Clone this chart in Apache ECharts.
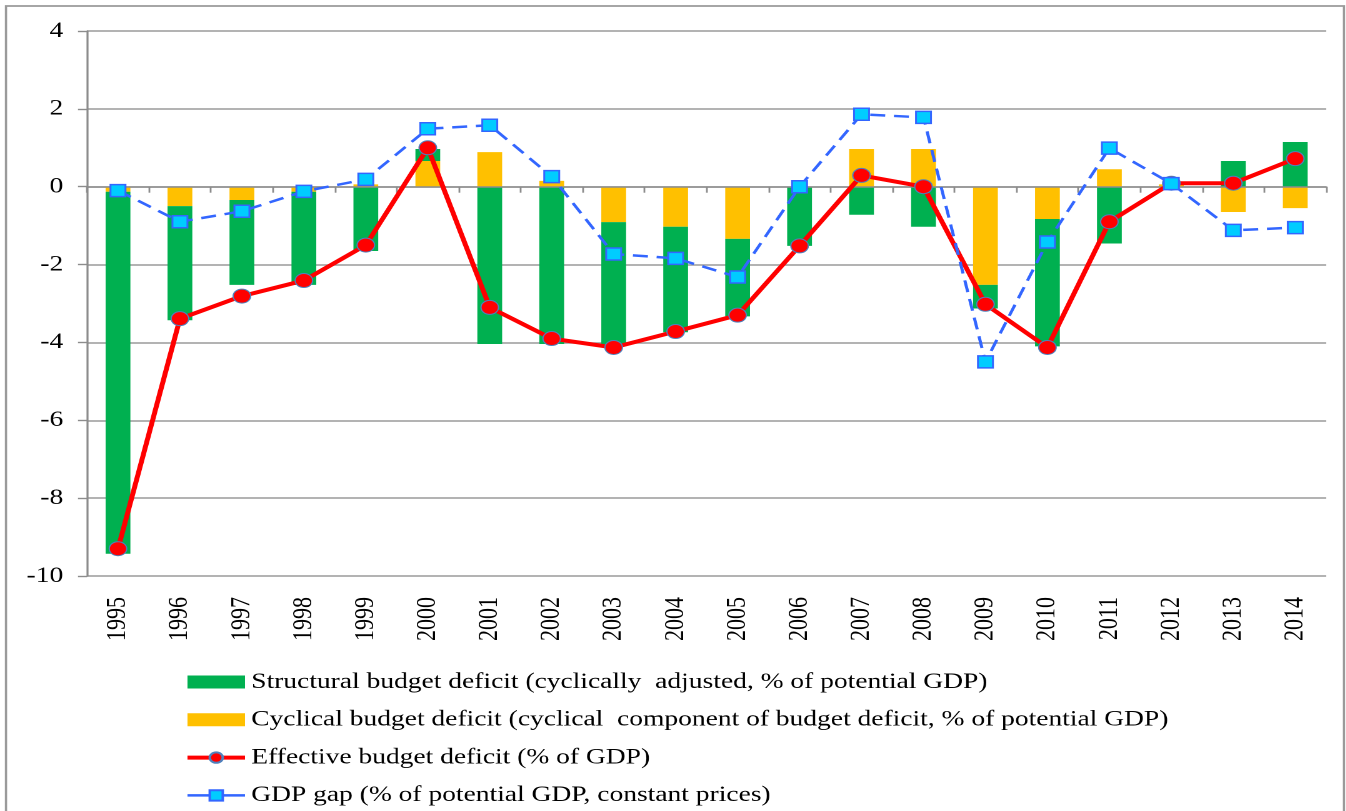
<!DOCTYPE html>
<html>
<head>
<meta charset="utf-8">
<script src="https://cdn.jsdelivr.net/npm/echarts@6/dist/echarts.min.js"></script>
<style>
html,body{margin:0;padding:0;background:#fff;overflow:hidden;}
#wrap{width:1346px;height:811px;overflow:hidden;position:relative;}
#chart{width:1076.8px;height:811px;transform:scaleX(1.25);transform-origin:0 0;position:absolute;left:0;top:0;}
</style>
</head>
<body>
<div id="wrap"><div id="chart"></div></div>
<script>
const years = ['1995','1996','1997','1998','1999','2000','2001','2002','2003','2004','2005','2006','2007','2008','2009','2010','2011','2012','2013','2014'];
const structural = [-9.3,-2.93,-2.18,-2.39,-1.65,0.31,-4.04,-4.04,-3.14,-2.71,-1.99,-1.52,-0.72,-1.03,-0.61,-3.27,-1.46,0.0,0.66,1.15];
const cyclical = [-0.13,-0.5,-0.34,-0.13,0.06,0.66,0.89,0.15,-0.91,-1.03,-1.34,0.0,0.97,0.97,-2.52,-0.83,0.45,0.06,-0.65,-0.55];
const effective = [-9.3,-3.39,-2.81,-2.41,-1.5,1.0,-3.1,-3.9,-4.13,-3.72,-3.3,-1.52,0.29,0.0,-3.02,-4.13,-0.9,0.09,0.09,0.72];
const gdpGap = [-0.1,-0.9,-0.63,-0.12,0.19,1.49,1.58,0.26,-1.73,-1.84,-2.32,0.0,1.86,1.78,-4.5,-1.42,0.99,0.08,-1.12,-1.05];
const yTicks = {min:-10, max:4, interval:2};
const names = [
  'Structural budget deficit (cyclically  adjusted, % of potential GDP)',
  'Cyclical budget deficit (cyclical  component of budget deficit, % of potential GDP)',
  'Effective budget deficit (% of GDP)',
  'GDP gap (% of potential GDP, constant prices)'
];

const FONT = '"Liberation Serif", "Times New Roman", serif';
const chart = echarts.init(document.getElementById('chart'), null, {renderer:'canvas', devicePixelRatio:2});
chart.setOption({
  animation:false,
  backgroundColor:'#fff',
  textStyle:{fontFamily:FONT},
  graphic:[{type:'rect', shape:{x:4.8,y:6,width:1070.4,height:900}, style:{fill:'none',stroke:'#9a9a9a',lineWidth:1.8}, z:-1}],
  grid:{left:69.6, right:16, top:31, bottom:235, containLabel:false, outerBoundsMode:'none'},
  legend:{
    orient:'vertical', left:148, top:670, padding:0, height:141, itemWidth:46, itemHeight:13, itemGap:13.8,
    textStyle:{fontFamily:FONT, fontSize:22, color:'#000', lineHeight:24},
    data:[
      {name:names[0], icon:'rect'},
      {name:names[1], icon:'rect'},
      {name:names[2], lineStyle:{width:4}},
      {name:names[3], lineStyle:{type:'solid', width:2.5}}
    ]
  },
  xAxis:[
    {type:'category', data:years, position:'bottom', axisLine:{show:false,onZero:false}, axisTick:{show:false},
     axisLabel:{rotate:90, fontFamily:FONT, fontSize:22, color:'#000', margin:21}},
    {type:'category', data:years, position:'top', z:1.5,
     axisLine:{onZero:true, lineStyle:{color:'#8c8c8c', width:1.6}},
     axisTick:{show:true, inside:true, length:6, lineStyle:{color:'#8c8c8c', width:1.4}},
     axisLabel:{show:false}}
  ],
  yAxis:{type:'value', min:yTicks.min, max:yTicks.max, interval:yTicks.interval,
    axisLine:{show:true, lineStyle:{color:'#8c8c8c', width:1.6}},
    axisTick:{show:true, length:7.2, lineStyle:{color:'#8c8c8c', width:1.4}},
    splitLine:{lineStyle:{color:'#9a9a9a', width:1.5}},
    axisLabel:{fontFamily:FONT, fontSize:22, color:'#000', margin:19}
  },
  series:[
    {name:names[1], type:'bar', stack:'b', data:cyclical, barWidth:'40%', z:1, itemStyle:{color:'#FFC000'}},
    {name:names[0], type:'bar', stack:'b', data:structural, barWidth:'40%', z:1, itemStyle:{color:'#00B050'}},
    {name:names[2], type:'line', data:effective, symbol:'circle', symbolSize:14, z:3,
     lineStyle:{color:'#FF0000', width:4}, itemStyle:{color:'#FF0000', borderColor:'#4F81BD', borderWidth:1}},
    {name:names[3], type:'line', data:gdpGap, symbol:'rect', symbolSize:12, z:4,
     lineStyle:{color:'#3366FF', width:2.5, type:[12,7]}, itemStyle:{color:'#00CCFF', borderColor:'#3366FF', borderWidth:1.5}}
  ]
});
</script>
</body>
</html>
